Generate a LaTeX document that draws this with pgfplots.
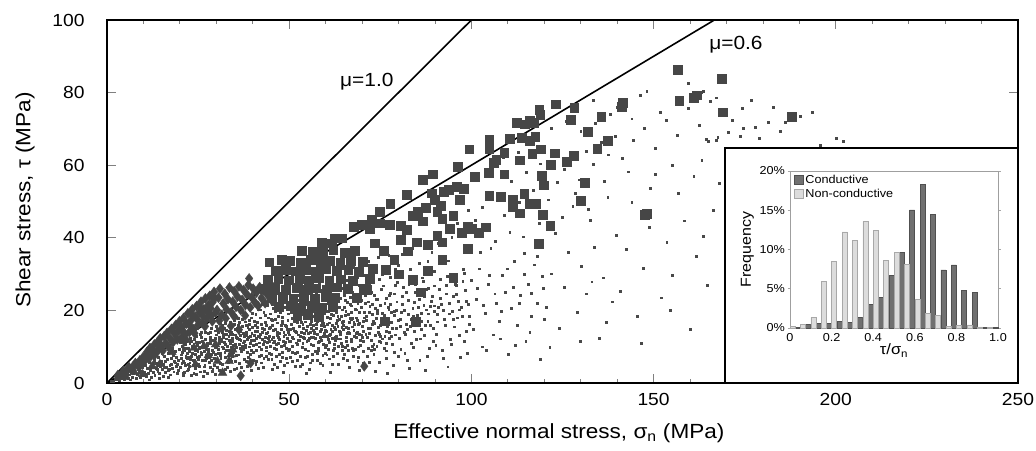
\documentclass[border=0pt]{standalone}
\usepackage{fontspec}
\setmainfont{Liberation Sans}[FakeStretch=1.1]
\usepackage{pgfplots}
\pgfplotsset{compat=1.18}

\definecolor{markgray}{HTML}{464646}
\definecolor{dotgray}{HTML}{484848}
\definecolor{condfill}{HTML}{707070}
\definecolor{condedge}{HTML}{505050}
\definecolor{noncondfill}{HTML}{DCDCDC}
\definecolor{noncondedge}{HTML}{A8A8A8}

\pgfplotsset{squarelegend/.style={legend image code/.code={\draw[##1] (0pt,-4.5pt) rectangle (9pt,4.5pt);}}}

\begin{document}
\begin{tikzpicture}
\path[use as bounding box] (-107pt,-67pt) rectangle (929pt,383pt);
\begin{axis}[
  scale only axis, width=911pt, height=363pt,
  xmin=0, xmax=250, ymin=0, ymax=100,
  xtick={0,50,...,250}, ytick={0,20,...,100},
  minor x tick num=4,
  tick align=inside,
  major tick length=9pt, minor tick length=4.5pt,
  every tick/.style={draw=gray, line width=0.8pt},
  axis line style={line width=1.1pt, black},
  /pgf/number format/assume math mode=true,
  tick label style={font=\fontsize{17.5}{20}\selectfont},
  xticklabel style={yshift=-7pt},
  yticklabel style={xshift=-19pt},
  xlabel={Effective normal stress, σ\textsubscript{n} (MPa)},
  ylabel={Shear stress, τ (MPa)},
  label style={font=\fontsize{20.5}{24}\selectfont},
  xlabel style={at={(axis description cs:0.496,0)}, anchor=center, yshift=-50pt},
  ylabel style={at={(axis description cs:0,0.504)}, anchor=center, yshift=82pt},
  clip=false,
]
% non-conductive fractures
\addplot[only marks, mark=square*, mark size=0.95pt, color=dotgray] coordinates {
(1.2,0.6) (1.8,0.5) (2.1,1.1) (2.6,0.9) (3.0,1.4) (3.3,0.7) (3.7,1.6) (4.1,1.2) (4.4,2.0) (4.8,1.0)
(5.2,1.9) (5.5,2.6) (5.9,1.4) (6.2,2.3) (6.6,3.0) (6.9,1.7) (7.3,2.8) (7.6,3.5) (7.9,1.2) (8.2,2.4)
(8.5,3.9) (8.8,2.9) (9.1,1.6) (9.4,3.4) (9.7,4.4) (9.9,2.2) (2.4,1.6) (5.0,3.1) (6.4,0.9) (8.0,4.6)
(10.2,3.1) (10.5,5.0) (10.8,1.9) (11.1,4.2) (11.3,2.7) (11.6,5.8) (11.9,3.6) (12.1,1.5) (12.4,4.9) (12.6,3.0)
(12.9,6.3) (13.1,2.2) (13.4,4.1) (13.6,5.5) (13.9,3.3) (14.1,7.0) (14.3,2.6) (14.6,4.6) (14.8,6.0) (15.1,3.7)
(15.3,1.8) (15.5,5.2) (15.8,7.4) (16.0,2.9) (16.2,4.4) (16.5,6.5) (16.7,3.5) (16.9,8.1) (17.2,5.0) (17.4,2.3)
(17.6,6.9) (17.9,4.0) (18.1,7.6) (18.3,3.1) (18.6,5.6) (18.8,8.7) (19.0,4.6) (19.3,2.7) (19.5,6.3) (19.8,9.2)
(10.4,2.4) (11.0,6.2) (12.0,4.0) (13.0,7.2) (14.0,5.0) (15.0,8.2) (16.0,5.9) (17.0,3.8) (18.0,9.5) (19.0,7.0)
(11.7,0.9) (14.4,1.3) (16.8,1.7) (19.6,3.6) (12.8,5.4) (15.7,4.3) (18.5,6.1) (13.7,3.9) (17.7,5.3) (19.2,5.1)
(20.1,4.3) (20.3,7.8) (20.6,10.1) (20.8,2.6) (21.0,6.1) (21.3,8.9) (21.5,4.9) (21.7,11.4) (22.0,3.4) (22.2,7.2)
(22.4,9.6) (22.7,5.6) (22.9,12.3) (23.1,2.2) (23.4,8.2) (23.6,6.4) (23.8,10.7) (24.1,4.0) (24.3,9.1) (24.5,13.0)
(24.8,7.0) (25.0,5.2) (25.2,11.2) (25.5,3.1) (25.7,8.6) (25.9,14.0) (26.2,6.3) (26.4,10.0) (26.6,4.5) (26.9,12.1)
(27.1,7.6) (27.3,9.4) (27.6,2.8) (27.8,13.6) (28.0,5.8) (28.3,10.9) (28.5,8.0) (28.7,15.2) (29.0,3.9) (29.2,11.7)
(29.4,6.8) (29.7,9.9) (29.9,13.3) (20.5,5.4) (21.9,6.8) (22.5,4.6) (23.3,9.9) (24.0,6.0) (24.7,10.3) (25.3,7.4)
(26.0,8.3) (26.8,5.0) (27.4,11.0) (28.1,7.1) (28.9,9.0) (29.5,4.8) (20.9,9.3) (22.1,8.3) (23.7,5.0) (25.6,9.8)
(27.0,6.2) (28.4,12.6) (29.8,7.9) (21.2,3.0) (24.4,2.5) (26.5,1.9) (28.8,3.3) (23.0,11.6) (25.8,12.5) (27.7,8.7)
(29.3,10.6) (26.1,11.4) (24.9,8.8) (22.8,6.5) (21.6,7.5)
(30.1,6.2) (30.3,10.4) (30.6,13.9) (30.8,3.5) (31.0,8.3) (31.3,12.0) (31.5,15.8) (31.7,5.1) (32.0,9.6) (32.2,11.3)
(32.4,7.2) (32.7,14.6) (32.9,4.3) (33.1,10.1) (33.4,12.8) (33.6,8.0) (33.8,16.7) (34.1,6.0) (34.3,11.6) (34.5,13.5)
(34.8,9.2) (35.0,3.7) (35.2,14.9) (35.5,7.6) (35.7,12.3) (35.9,17.9) (36.2,10.6) (36.4,5.4) (36.6,13.2) (36.9,8.7)
(37.1,15.6) (37.3,11.1) (37.6,6.6) (37.8,18.5) (38.0,9.8) (38.3,14.0) (38.5,4.6) (38.7,12.5) (39.0,16.2) (39.2,7.9)
(39.4,10.9) (39.7,13.8) (39.9,19.3) (30.4,8.1) (31.2,6.9) (31.9,13.4) (32.6,9.0) (33.3,5.8) (33.9,11.0) (34.6,8.5)
(35.3,10.8) (36.0,14.4) (36.7,11.9) (37.4,9.3) (38.1,13.1) (38.8,7.1) (39.5,11.8) (30.9,10.9) (32.1,15.1) (33.5,14.2)
(34.9,16.1) (36.3,16.8) (37.7,12.8) (39.1,14.7) (30.2,4.4) (31.8,2.9) (33.7,3.2) (35.6,4.0) (37.5,3.4) (39.3,5.2)
(31.4,11.5) (32.8,12.2) (34.2,10.0) (35.4,12.7) (36.5,9.5) (37.9,10.4) (38.9,17.3) (39.6,9.0) (34.4,7.4) (36.1,7.8)
(38.4,8.4) (32.3,8.6) (30.7,12.5) (38.6,15.4) (35.1,18.8) (37.2,19.6)
(40.1,8.4) (40.3,13.1) (40.5,17.0) (40.8,5.3) (41.0,10.8) (41.2,15.4) (41.5,20.3) (41.7,7.5) (41.9,12.6) (42.2,9.4)
(42.4,16.3) (42.6,14.0) (42.9,4.4) (43.1,11.5) (43.3,18.7) (43.6,8.9) (43.8,13.7) (44.0,21.4) (44.3,6.6) (44.5,15.0)
(44.7,10.2) (45.0,17.6) (45.2,12.1) (45.4,3.8) (45.7,14.5) (45.9,9.7) (46.1,19.8) (46.4,7.3) (46.6,13.2) (46.8,16.6)
(47.1,11.0) (47.3,22.5) (47.5,5.9) (47.8,15.8) (48.0,8.6) (48.2,18.2) (48.5,12.9) (48.7,10.4) (48.9,20.9) (49.2,6.8)
(49.4,14.8) (49.6,17.2) (49.9,11.6) (40.4,11.9) (41.1,14.2) (41.8,10.0) (42.5,12.1) (43.2,14.9) (43.9,11.3) (44.6,13.0)
(45.3,15.8) (46.0,11.4) (46.7,14.0) (47.4,13.6) (48.1,16.4) (48.8,13.3) (49.5,12.4) (40.7,15.9) (42.0,18.0) (43.4,16.8)
(44.8,19.1) (46.2,17.5) (47.6,19.6) (49.0,16.0) (40.2,6.4) (41.6,4.2) (43.0,6.9) (44.4,8.3) (45.8,5.1) (47.2,7.9)
(48.6,4.9) (49.8,8.9) (40.9,9.1) (42.3,7.7) (43.7,9.9) (45.1,8.0) (46.5,9.2) (47.9,10.1) (49.3,9.5) (41.4,12.9)
(42.8,10.6) (44.2,12.4) (45.6,11.1) (47.0,12.5) (48.4,11.4) (49.7,14.1) (44.1,23.5) (46.9,24.6) (49.1,23.0) (42.7,21.8)
(48.3,2.9) (45.5,20.7)
(50.1,9.4) (50.3,14.8) (50.6,19.6) (50.8,6.0) (51.0,12.2) (51.3,17.1) (51.5,23.4) (51.7,8.3) (52.0,13.9) (52.2,10.7)
(52.4,18.8) (52.7,15.6) (52.9,4.7) (53.1,12.8) (53.4,21.0) (53.6,9.9) (53.8,15.1) (54.1,25.2) (54.3,7.2) (54.5,16.9)
(54.8,11.4) (55.0,20.1) (55.2,13.6) (55.5,3.9) (55.7,16.2) (55.9,10.8) (56.2,22.6) (56.4,8.0) (56.6,14.6) (56.9,18.4)
(57.1,12.3) (57.3,26.3) (57.6,6.3) (57.8,17.7) (58.0,9.5) (58.3,20.7) (58.5,14.3) (58.7,11.7) (59.0,23.8) (59.2,7.6)
(59.4,16.5) (59.7,19.2) (59.9,13.0) (50.4,11.5) (51.1,15.0) (51.8,11.1) (52.5,13.3) (53.2,16.7) (53.9,12.6) (54.6,14.5)
(55.3,17.8) (56.0,12.7) (56.7,15.9) (57.4,15.2) (58.1,18.3) (58.8,14.9) (59.5,13.8) (50.7,17.8) (52.1,20.4) (53.5,18.9)
(54.9,21.7) (56.3,19.7) (57.7,22.0) (59.1,18.0) (50.2,7.1) (51.6,4.6) (53.0,7.5) (54.4,9.2) (55.8,5.6) (57.2,8.7)
(58.6,5.4) (59.8,9.9) (50.9,10.2) (52.3,8.6) (53.7,11.0) (55.1,8.9) (56.5,10.3) (57.9,11.3) (59.3,10.6) (51.4,14.4)
(52.8,11.8) (54.2,13.8) (55.6,12.4) (57.0,14.0) (58.4,12.7) (59.6,15.7) (53.3,27.1) (55.4,28.4) (58.2,27.5) (51.9,25.8)
(56.8,30.1) (54.7,2.8) (57.5,24.4) (52.6,22.9)
(60.2,10.4) (60.5,16.2) (60.8,21.9) (61.0,6.7) (61.3,13.5) (61.6,19.0) (61.9,26.1) (62.1,9.1) (62.4,15.3) (62.7,11.8)
(63.0,20.8) (63.2,17.4) (63.5,5.2) (63.8,14.2) (64.1,23.3) (64.3,11.0) (64.6,16.8) (64.9,28.0) (65.1,8.0) (65.4,18.7)
(65.7,12.6) (66.0,22.3) (66.2,15.1) (66.5,4.3) (66.8,17.9) (67.1,12.0) (67.3,25.0) (67.6,8.9) (67.9,16.1) (68.2,20.3)
(68.4,13.6) (68.7,29.2) (69.0,7.0) (69.3,19.6) (69.5,10.5) (69.8,22.9) (60.4,12.8) (61.1,16.6) (61.8,12.3) (62.5,14.7)
(63.3,18.5) (64.0,13.9) (64.7,16.0) (65.5,19.8) (66.3,14.1) (67.0,17.6) (67.7,16.9) (68.5,20.2) (69.2,16.5) (60.7,19.8)
(62.2,22.6) (63.7,20.9) (65.2,24.1) (66.7,21.8) (68.1,24.4) (69.6,26.3) (60.3,7.8) (61.7,5.1) (63.1,8.3) (64.5,10.2)
(65.9,6.2) (67.4,9.7) (68.8,6.0) (60.9,11.3) (62.3,9.5) (63.9,12.2) (65.3,9.8) (66.9,11.4) (68.3,12.5) (69.7,13.3)
(61.4,14.9) (62.9,13.0) (64.4,15.3) (65.8,13.7) (67.2,15.5) (68.6,14.0) (62.6,30.5) (64.8,31.6) (67.5,32.0) (69.1,3.6)
(66.4,27.4) (63.6,25.9) (61.2,2.9)
(70.2,11.5) (70.6,18.0) (71.0,24.3) (71.3,7.4) (71.7,15.0) (72.1,21.1) (72.4,29.0) (72.8,10.1) (73.1,17.0) (73.5,13.1)
(73.9,23.1) (74.2,19.3) (74.6,5.8) (74.9,15.8) (75.3,25.9) (75.6,12.2) (76.0,18.7) (76.4,31.1) (76.7,8.9) (77.1,20.8)
(77.4,14.0) (77.8,24.8) (78.1,16.8) (78.5,4.8) (78.8,19.9) (79.2,13.3) (79.6,27.8) (70.4,14.2) (71.2,18.5) (72.0,13.7)
(72.9,16.3) (73.7,20.6) (74.5,15.4) (75.4,17.8) (76.2,22.0) (77.0,15.7) (77.9,19.6) (78.7,18.8) (79.5,22.4) (70.8,21.9)
(72.5,25.1) (74.1,23.2) (75.8,26.8) (77.5,24.2) (79.0,27.0) (70.3,8.7) (71.9,5.7) (73.4,9.2) (75.1,11.3) (76.6,6.9)
(78.3,10.8) (79.8,7.3) (71.5,12.5) (73.2,10.6) (74.8,13.5) (76.5,11.0) (78.0,12.8) (79.4,15.1) (71.8,33.5) (74.4,34.6)
(77.3,35.1) (79.9,32.4) (73.6,3.2) (76.9,2.7) (75.5,30.0) (72.2,28.5)
(80.3,12.4) (80.8,19.5) (81.3,26.4) (81.7,8.2) (82.2,16.2) (82.6,22.8) (83.1,31.3) (83.5,11.0) (84.0,18.3) (84.4,14.2)
(84.9,24.9) (85.3,20.8) (85.8,6.3) (86.2,17.1) (86.7,28.0) (87.1,13.2) (87.6,20.2) (88.0,33.6) (88.5,9.6) (88.9,22.5)
(89.4,15.1) (89.8,26.8) (80.5,15.6) (81.5,20.0) (82.4,14.9) (83.4,17.7) (84.3,22.2) (85.2,16.7) (86.1,19.3) (87.0,23.8)
(88.0,17.0) (88.8,21.2) (89.7,19.9) (80.9,23.9) (82.8,27.1) (84.6,25.1) (86.4,29.0) (88.2,26.2) (89.9,30.8) (80.6,9.4)
(82.3,6.2) (84.1,9.9) (85.9,12.2) (87.8,7.4) (89.6,11.6) (81.1,35.6) (83.8,37.2) (86.9,38.3) (89.1,36.0) (83.0,4.1)
(87.4,3.5) (85.6,33.0) (81.9,13.5) (84.8,12.0) (87.3,15.8)
(90.4,13.5) (90.9,21.0) (91.5,28.5) (92.0,9.0) (92.6,17.6) (93.1,24.6) (93.7,33.7) (94.2,12.0) (94.8,19.8) (95.3,15.5)
(95.9,26.9) (96.4,22.5) (97.0,7.0) (97.5,18.5) (98.1,30.3) (98.6,14.3) (99.2,21.8) (99.7,36.4) (90.7,16.9) (91.8,21.7)
(92.9,16.0) (94.0,19.1) (95.1,23.9) (96.2,18.0) (97.3,20.9) (98.4,25.6) (99.5,18.4) (91.2,25.8) (93.3,29.3) (95.5,27.2)
(97.7,31.4) (99.9,28.3) (90.2,10.3) (92.3,6.8) (94.5,10.7) (96.7,13.1) (98.9,8.1) (91.0,38.5) (94.6,40.1) (98.2,41.8)
(96.0,44.0) (93.5,4.5) (97.9,11.6) (92.1,45.2) (99.0,47.5)
(100.5,14.7) (101.3,23.0) (102.1,31.5) (102.9,10.0) (103.7,19.3) (104.5,27.2) (105.3,37.1) (106.1,13.3) (106.9,21.9) (107.7,17.1)
(108.5,29.8) (109.3,24.9) (110.1,7.9) (110.9,20.5) (111.7,33.6) (112.5,16.0) (113.3,24.2) (114.1,40.3) (114.9,11.5) (115.7,27.3)
(116.5,18.3) (117.3,32.6) (118.1,22.1) (118.9,6.5) (119.7,26.2) (101.0,44.8) (103.0,48.5) (105.0,42.6) (107.0,52.0) (109.0,46.3)
(111.0,55.5) (113.0,49.8) (115.0,58.0) (117.0,53.2) (119.0,60.4) (102.5,36.0) (106.5,39.0) (110.5,41.5) (114.5,35.8) (118.5,44.0)
(104.0,9.0) (108.0,12.2) (112.0,10.5) (116.0,14.0) (120.0,17.5) (100.8,57.6) (108.8,62.3) (112.8,63.5) (116.8,66.0) (105.8,60.0)
(120.6,20.8) (121.8,30.1) (123.0,41.2) (124.2,15.0) (125.4,26.5) (126.6,36.0) (127.8,48.7) (129.0,19.4) (130.2,32.3) (131.4,24.6)
(132.6,44.8) (133.8,37.4) (135.0,12.4) (136.2,29.0) (137.4,51.3) (138.6,22.4) (139.8,40.6) (121.0,50.5) (123.5,55.3) (125.5,58.8)
(127.5,61.6) (129.5,56.0) (131.5,63.9) (133.5,60.2) (135.5,66.4) (137.5,62.9) (139.5,68.1) (122.0,70.2) (126.0,72.0) (130.0,69.4)
(134.0,71.5) (138.0,74.0) (124.8,45.7) (128.4,52.4) (132.0,47.9) (136.5,55.7) (121.5,9.8) (129.8,11.6) (137.0,16.7) (133.0,27.9)
(140.8,25.4) (142.4,36.9) (144.0,49.7) (145.6,18.3) (147.2,31.7) (148.8,42.8) (150.4,57.5) (152.0,23.5) (153.6,38.8) (155.2,29.6)
(156.8,52.4) (158.4,44.7) (160.0,14.8) (161.6,35.0) (163.2,61.4) (164.8,27.0) (166.4,47.5) (168.0,55.0) (141.5,62.0) (144.5,66.8)
(147.5,70.1) (150.5,64.6) (153.5,72.4) (156.5,68.3) (159.5,75.7) (162.5,71.0) (165.5,77.6) (168.5,73.8) (143.0,58.2) (149.0,53.7)
(155.0,60.1) (161.0,57.0) (146.5,11.0) (154.5,20.1) (163.5,40.5) (148.1,80.3) (146.2,79.4) (151.7,74.5) (159.5,82.6) (163.6,80.5)
(167.6,67.6) (164.4,67.2) (133.5,78.0) (140.0,76.0) (144.0,72.8)
(163.2,80.0) (167.3,78.6) (174.2,75.7) (182.9,75.9) (193.4,74.5) (190.2,73.4) (186.0,71.9) (181.4,71.8) (178.0,70.4) (174.6,70.2)
(173.7,68.0) (170.5,69.0) (167.3,67.0) (165.0,66.5) (178.9,67.4) (195.7,65.4) (200.2,67.4) (202.0,66.5) (171.6,72.5) (176.8,77.8)
(184.7,69.3)
(20.4,6.9) (20.7,8.4) (21.1,5.6) (21.4,9.7) (21.8,7.1) (22.3,5.1) (22.6,8.8) (23.2,7.3) (23.5,10.2) (23.9,6.2)
(24.2,8.0) (24.6,11.3) (25.1,6.6) (25.4,9.6) (25.8,7.8) (26.3,10.9) (26.7,8.8) (27.2,6.9) (27.5,10.3) (27.9,9.2)
(28.2,11.8) (28.6,6.4) (29.1,8.5) (29.6,12.4) (29.9,10.2) (30.5,9.3) (30.8,11.7) (31.1,7.6) (31.6,10.0) (31.9,12.6)
(32.5,10.7) (32.8,13.4) (33.2,9.1) (33.6,11.9) (34.0,14.1) (34.4,12.4) (34.7,10.3) (35.1,13.3) (35.5,9.8) (35.8,15.2)
(36.2,12.1) (36.6,14.2) (37.0,10.1) (37.3,13.7) (37.7,11.6) (38.2,15.9) (38.5,12.0) (38.9,10.0) (39.3,13.0) (39.8,15.4)
(40.2,10.4) (40.6,14.3) (40.9,12.4) (41.3,16.7) (41.7,11.1) (42.1,13.4) (42.5,15.2) (42.9,10.8) (43.3,12.7) (43.7,16.0)
(44.1,13.9) (44.5,11.6) (44.9,15.4) (45.3,17.3) (45.7,12.6) (46.1,14.9) (46.5,10.8) (46.9,18.3) (47.3,12.0) (47.7,14.8)
(48.1,17.0) (48.5,13.9) (48.9,11.3) (49.3,15.6) (49.7,19.1) (50.1,13.3) (50.5,16.2) (50.9,12.5) (51.3,18.6) (51.7,14.3)
(52.1,16.8) (52.5,11.7) (52.9,19.6) (53.3,14.0) (53.7,16.2) (54.1,12.4) (54.5,18.2) (54.9,15.6) (55.3,20.4) (55.7,13.9)
(56.1,17.0) (56.5,12.6) (56.9,19.9) (57.3,16.3) (57.7,13.4) (58.1,21.3) (58.5,17.4) (58.9,15.9) (59.3,12.9) (59.7,20.6)
(60.1,14.2) (60.5,18.2) (60.9,13.1) (61.3,21.5) (61.7,16.0) (62.1,18.6) (62.5,12.6) (62.9,22.3) (63.3,15.6) (63.7,17.7)
(64.1,13.4) (64.5,20.2) (64.9,17.0) (65.3,22.9) (65.7,15.3) (66.1,18.9) (66.5,13.8) (66.9,21.3) (67.3,17.8) (67.7,14.6)
(68.1,23.5) (68.5,18.0) (68.9,16.3) (69.3,13.4) (69.7,21.0) (70.1,15.6) (70.5,19.6) (71.1,17.3) (71.6,22.4) (72.2,15.1)
(72.7,19.0) (73.3,24.2) (73.8,17.8) (74.3,14.0) (74.9,21.4) (75.4,19.2) (75.9,16.1) (76.5,23.3) (77.1,18.0) (77.6,21.8)
(78.2,15.1) (78.8,24.6) (79.3,20.0) (79.9,17.4)
(30.3,14.9) (31.5,13.9) (32.4,16.4) (33.8,13.5) (34.9,17.3) (36.0,16.0) (37.2,17.5) (38.0,16.9) (39.5,18.0) (40.8,18.9)
(42.0,20.2) (43.0,19.6) (44.3,18.0) (45.4,21.6) (46.4,20.4) (47.5,21.0) (48.7,22.3) (49.8,21.7) (51.0,22.5) (52.3,24.2)
(53.6,23.0) (54.8,24.0) (56.0,25.1) (57.1,23.2) (58.4,25.6) (59.6,24.6) (60.6,26.9) (61.9,24.4) (63.1,27.9) (64.3,26.2)
(65.6,28.2) (66.8,26.0) (68.0,28.7) (69.2,27.0) (70.6,29.6) (72.0,27.1) (73.4,30.6) (74.8,28.5) (76.1,31.8) (77.7,29.2) (79.2,31.3)
(20.9,2.1) (22.4,3.9) (23.8,2.7) (25.3,4.6) (26.7,3.3) (28.2,4.3) (29.6,2.4) (31.0,5.5) (32.5,3.9) (33.9,6.6)
(35.3,5.9) (36.8,4.3) (38.2,6.1) (39.6,3.6) (41.0,6.1) (42.4,5.6) (43.8,7.4) (45.2,6.6) (46.6,4.4) (48.0,7.0)
(49.4,5.6) (50.8,8.6) (52.2,6.4) (53.6,5.1) (55.0,7.3) (56.4,6.2) (57.8,8.1) (59.2,5.0) (60.6,9.3) (62.0,7.5)
(63.4,10.2) (64.8,6.8) (66.2,9.0) (67.6,7.3) (69.0,10.0) (70.4,5.4) (71.8,9.7) (73.2,7.9) (74.6,11.4) (76.0,9.6) (77.4,12.3) (78.8,8.6)
(20.2,11.2) (21.5,10.6) (22.7,11.0) (24.0,12.1) (25.6,13.4) (27.0,14.0) (28.3,13.9) (29.7,14.4) (30.0,15.7) (31.2,16.4)
(80.4,17.6) (81.0,21.6) (81.6,14.0) (82.1,24.9) (82.7,18.9) (83.3,15.6) (83.9,20.6) (84.5,27.3) (85.1,18.6) (85.7,23.0)
(86.3,14.9) (86.9,21.5) (87.5,25.9) (88.1,19.1) (88.7,16.0) (89.3,24.0) (89.9,21.3) (90.6,18.9) (91.4,23.4) (92.3,20.0)
(93.1,27.0) (94.0,22.0) (94.9,17.5) (95.8,24.5) (96.7,20.2) (97.6,28.0) (98.5,22.6) (99.4,16.2)
(101.5,26.0) (103.2,21.4) (104.8,29.6) (106.4,24.6) (108.1,19.8) (109.7,31.5) (111.4,26.4) (113.0,22.0) (114.6,30.0) (116.3,24.8)
(118.0,35.0) (119.5,29.4)
(55.2,11.8) (56.0,15.2) (56.9,13.6) (57.6,17.1) (58.3,11.5) (59.0,16.8) (59.8,14.5) (60.6,12.0) (61.2,17.8) (61.9,14.2)
(62.8,16.4) (63.5,12.2) (64.2,18.4) (64.8,14.7) (65.6,11.4) (66.4,16.7) (67.0,19.5) (67.8,13.0) (68.6,17.3) (69.4,11.8)
(70.2,17.0) (71.0,13.4) (71.9,19.4) (72.6,11.9) (73.4,16.5) (74.1,20.0) (74.9,13.0) (75.7,17.4) (76.6,14.3) (77.3,20.3)
(55.8,19.0) (57.3,20.1) (59.4,21.7) (61.6,23.2) (63.0,19.6) (65.0,21.0) (66.8,23.6) (68.8,22.0) (70.9,24.1) (72.9,21.6)
(58.0,9.0) (60.0,8.3) (62.4,10.8) (64.6,9.0) (66.0,10.5) (68.0,9.4) (70.0,12.5) (72.4,9.0) (74.0,10.1) (76.2,12.8)
};
% low-angle conductive group
\addplot[only marks, mark=triangle*, mark size=5pt, color=markgray] coordinates {
(12.4,4.6) (14.5,5.2) (17.8,8.5) (23.9,9.7) (24.3,5.1) (26.6,10.1) (29.8,10.6) (30.3,6.0) (31.7,2.8)
(34.0,7.8) (33.5,6.0) (34.5,9.2) (21.9,11.8) (27.8,7.6) (9.8,2.4) (7.5,3.0) (5.2,1.6)
};
% shallow conductive group
\addplot[only marks, mark=diamond*, mark size=5pt, color=markgray] coordinates {
(3,2.2) (4,2.5) (4.5,3.3) (5.5,3.5) (6,4.4) (6.5,3.8) (7.2,4.6) (7.8,5.5) (8.4,5.0) (9,6.2) (9.6,5.6) (9.9,7.1)
(5,2.8) (7,3.6) (8.8,4.4)
(10.2,5.9) (10.5,7.3) (11.0,8.6) (11.4,6.8) (11.8,9.6) (12.2,7.6) (12.6,9.0) (13.0,10.6) (13.4,8.1) (13.8,11.2)
(14.2,9.4) (14.6,12.3) (15.0,10.2) (15.3,8.9) (15.7,12.9) (16.1,11.0) (16.5,13.8) (16.9,9.9) (17.3,12.3) (17.7,14.9)
(18.1,11.2) (18.5,13.6) (18.9,16.0) (19.3,12.0) (19.7,14.4) (19.9,17.0)
(20.3,12.3) (20.6,15.3) (21.0,17.9) (21.4,13.5) (21.8,16.4) (22.2,19.2) (22.6,14.0) (23.0,17.2) (23.4,20.3) (23.8,14.8)
(24.2,18.3) (24.6,21.2) (25.0,16.0) (25.4,19.5) (25.8,22.4) (26.2,16.6) (26.6,20.3) (27.0,23.3) (27.4,17.8) (27.8,21.4)
(28.2,24.0) (28.6,18.6) (29.0,22.3) (29.4,25.1) (29.8,19.4) (21.2,11.5) (24.0,13.7) (26.9,15.6) (28.9,17.0)
(20.8,14.3) (22.9,15.6) (24.8,17.5) (26.4,18.4) (28.4,20.6) (29.6,23.4) (23.2,18.9) (25.6,20.8) (27.6,19.6)
(30.2,20.1) (30.6,23.5) (31.0,26.0) (31.5,18.8) (31.9,21.9) (32.3,24.6) (32.8,20.3) (33.2,23.1) (33.6,26.3) (34.1,19.5)
(34.5,22.4) (34.9,25.3) (35.4,21.0) (35.8,23.8) (36.2,26.6) (36.7,20.1) (37.1,22.9) (37.5,25.6) (38.0,21.5) (38.4,24.4)
(38.8,27.0) (39.3,20.8) (39.7,23.6) (40.1,26.0) (40.6,22.2) (41.0,24.9) (41.5,21.2) (41.9,26.4) (42.4,23.4) (42.9,25.6)
(43.4,22.0) (43.9,24.5) (44.5,26.9) (45.0,23.0) (30.8,17.2) (32.6,17.8) (35.0,18.2) (37.9,18.6)
(39.0,28.8) (36.7,2.0) (34.0,15.7) (36.2,14.7) (39.4,5.5) (70.6,4.6) (31.5,15.0)
};
% conductive fractures
\addplot[only marks, mark=square*, mark size=4.4pt, color=markgray] coordinates {
(156.6,86.4) (168.7,83.9) (157.0,77.8) (161.1,78.7) (161.8,79.3) (168.9,74.6) (141.5,77.2) (141.3,76.1) (135.6,73.4) (128.2,75.8)
(123.2,76.8) (127.2,72.5) (118.6,75.2) (118.9,74.0) (116.1,72.2) (114.7,71.3) (117.0,71.6) (112.4,71.8) (117.5,67.9) (116.0,66.7)
(113.9,67.6) (110.6,67.2) (104.9,67.1) (104.9,64.4) (99.4,64.4) (109.0,63.5) (106.8,61.6) (106.2,60.7) (104.7,58.0) (101.0,56.8)
(96.3,59.6) (89.4,57.5) (86.6,56.1) (109.0,57.5) (113.3,61.4) (116.7,63.2) (119.0,64.4) (122.8,63.3) (128.0,62.6) (126.2,61.0)
(134.5,64.5) (137.3,66.7) (131.9,69.2) (121.7,60.2) (119.3,57.1) (119.9,54.5) (131.0,55.2) (130.1,50.2) (148.1,46.6) (147.5,46.3)
(104.9,51.5) (108.1,51.3) (111.3,50.4) (111.3,48.6) (114.5,52.1) (115.9,49.5) (117.7,49.4) (119.6,46.3) (121.6,43.3) (113.2,46.8)
(118.4,38.3) (104.0,42.9) (102.0,41.3) (99.0,43.1) (95.0,46.0) (96.8,50.4) (96.0,54.1) (93.7,53.2) (92.3,52.7) (97.8,53.6)
(89.1,52.3) (90.0,50.4) (87.5,48.2) (90.6,47.3) (91.5,48.8) (85.2,47.3) (86.6,44.6) (84.0,46.0) (82.2,51.8) (77.7,49.5)
(74.9,47.2) (72.6,44.9) (74.9,44.0) (69.8,43.6) (67.6,43.1) (64.4,39.9) (61.7,38.5) (57.1,35.7) (72.1,42.6) (77.6,43.6)
(80.5,43.4) (82.2,42.2) (80.5,39.5) (85.0,38.8) (90.6,40.6) (92.0,38.8) (94.0,42.4) (97.3,41.5) (100.0,42.4) (92.0,45.3)
(88.1,38.0) (82.6,36.3) (187.9,73.4)
(56.5,36.2) (59.2,36.0) (62.1,36.6) (65.3,35.8) (68.0,36.4)
(50.3,33.6) (53.2,33.2) (55.8,33.9) (58.7,33.3) (61.2,33.8) (64.0,33.1) (66.9,33.7) (70.2,33.4)
(46.2,31.0) (49.1,31.3) (51.8,30.8) (54.6,31.2) (57.2,30.7) (60.1,31.4) (63.0,30.9) (66.2,31.2) (69.1,30.6)
(44.1,28.4) (47.0,28.8) (49.8,28.3) (52.9,28.7) (55.4,28.2) (58.2,28.9) (61.0,28.3) (64.1,28.6) (67.4,28.1) (72.0,28.7)
(43.2,25.9) (46.1,26.2) (49.0,25.8) (51.9,26.3) (54.6,25.7) (57.3,26.1) (60.2,25.8) (63.1,26.4) (66.0,25.9) (70.3,26.0)
(45.3,23.4) (48.2,23.8) (51.1,23.3) (54.0,23.6) (57.1,23.2) (60.0,23.7) (62.6,23.4) (68.6,23.4) (71.3,25.7)
(47.1,21.0) (50.4,21.3) (53.2,20.8) (56.1,21.2) (59.0,20.7) (62.0,21.1)
(52.2,18.5) (55.1,18.8) (58.0,18.3) (84.8,16.8) (76.3,17.0)
(73.5,38.5) (76.0,36.5) (78.8,34.0) (73.0,31.5) (76.5,31.2) (80.0,30.0) (84.0,28.5) (88.0,31.0) (92.0,34.0) (86.0,25.0)
(95.0,29.0) (99.0,37.0) (62.5,39.9) (59.0,38.6) (53.4,36.4) (48.0,34.0) (44.5,33.3)
};
% friction lines
\addplot[black, line width=1.6pt] coordinates {(0,0) (100,100)};
\addplot[black, line width=1.6pt] coordinates {(0,0) (166.67,100)};
\node[font=\fontsize{19}{22}\selectfont] at (axis cs:71.3,82.9) {μ=1.0};
\node[font=\fontsize{19}{22}\selectfont] at (axis cs:172.6,93.1) {μ=0.6};
% inset panel background
\draw[black, line width=1.5pt, fill=white] (axis cs:169.6,0) rectangle (axis cs:250,64.7);
\end{axis}

\begin{axis}[
  at={(683pt,55pt)}, anchor=south west,
  scale only axis, width=208pt, height=157pt,
  xmin=0, xmax=1, ymin=0, ymax=20,
  xtick={0,0.2,0.4,0.6,0.8,1.0},
  xticklabels={0,0.2,0.4,0.6,0.8,1.0},
  ytick={0,5,10,15,20},
  yticklabels={0\%,5\%,10\%,15\%,20\%},
  tick align=outside, major tick length=2.5pt,
  xtick style={draw=none},
  every tick/.style={draw=gray!70, line width=0.6pt},
  axis line style={draw=gray!75, line width=0.8pt},
  tick label style={font=\fontsize{11.5}{14}\selectfont},
  xticklabel style={yshift=1pt},
  yticklabel style={xshift=1pt},
  xlabel={τ/σ\textsubscript{n}},
  ylabel={Frequency},
  xlabel style={font=\fontsize{15}{18}\selectfont, yshift=4pt},
  ylabel style={font=\fontsize{14.5}{18}\selectfont, yshift=-1pt},
  legend style={at={(0.02,0.985)}, anchor=north west, draw=none, fill=none,
    font=\fontsize{11.5}{14}\selectfont, inner sep=0pt, row sep=1pt,
    nodes={inner sep=1.5pt}},
  legend cell align=left,
  clip=false,
]
\addplot[ybar, bar width=0.024, bar shift=0pt, fill=condfill, draw=condedge, line width=0.5pt,
  squarelegend] coordinates {
(0.0375,0.1) (0.0875,0.5) (0.1375,0.6) (0.1875,0.6) (0.2375,0.85) (0.2875,0.75) (0.3375,1.35)
(0.3875,3.0) (0.4375,3.9) (0.4875,6.7) (0.5375,9.65) (0.5875,15.05) (0.6375,18.3) (0.6875,14.45)
(0.7375,7.4) (0.7875,8.05) (0.8375,4.8) (0.8875,4.55) (0.9375,0.1) (0.9875,0.05)
};
\addlegendentry{Conductive}
\addplot[ybar, bar width=0.024, bar shift=0pt, fill=noncondfill, draw=noncondedge, line width=0.5pt,
  squarelegend] coordinates {
(0.0125,0.2) (0.0625,0.5) (0.1125,1.35) (0.1625,5.95) (0.2125,8.45) (0.2625,12.25) (0.3125,11.15)
(0.3625,13.55) (0.4125,12.45) (0.4625,8.6) (0.5125,9.65) (0.5625,8.15) (0.6125,3.65) (0.6625,1.9)
(0.7125,1.6) (0.7625,0.2) (0.8125,0.3) (0.8625,0.4) (0.9125,0.15) (0.9625,0.05)
};
\addlegendentry{Non-conductive}
\end{axis}
\end{tikzpicture}
\end{document}
